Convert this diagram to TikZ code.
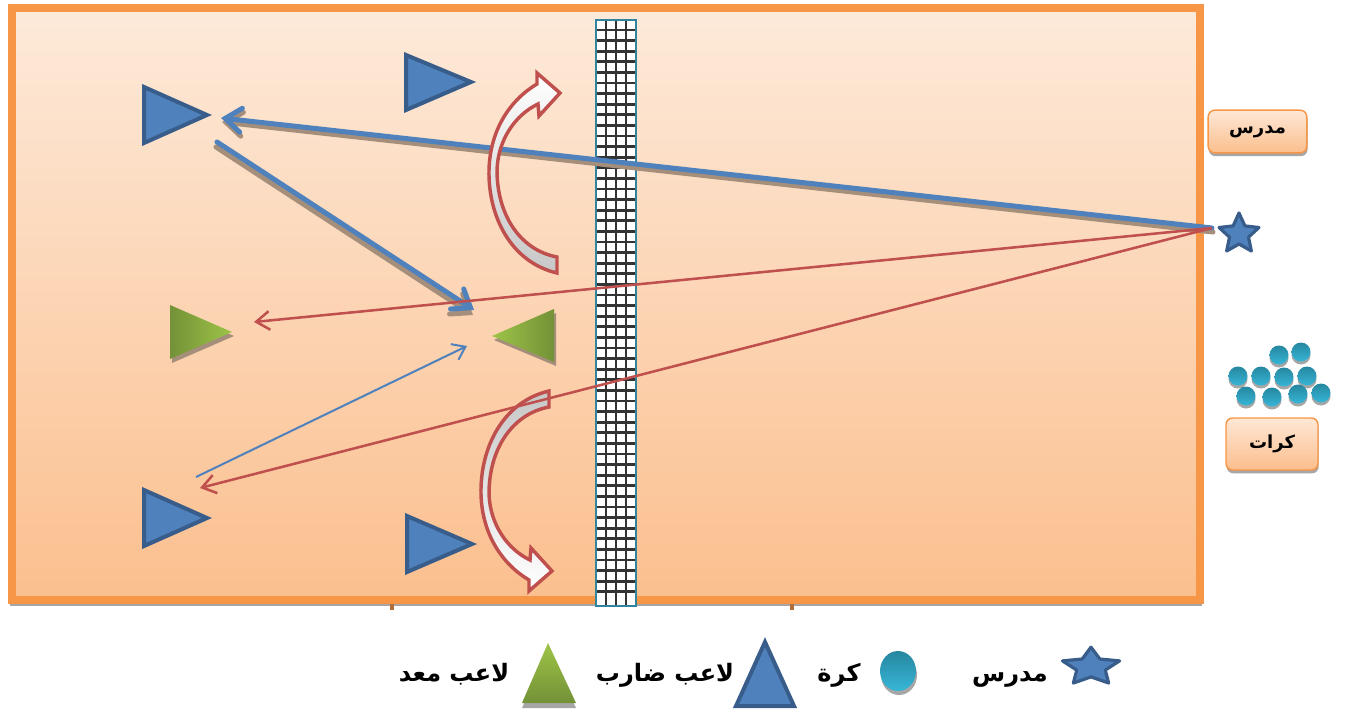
\documentclass[tikz,border=0pt]{standalone}
\usepackage{fontspec}
\newfontfamily\arabicfont[Script=Arabic]{DejaVu Sans}
\TeXXeTstate=1
\usetikzlibrary{arrows.meta,calc,shadows}
\definecolor{courtborder}{RGB}{247,150,70}
\definecolor{courttop}{RGB}{253,234,218}
\definecolor{courtbot}{RGB}{251,191,142}
\definecolor{pblue}{RGB}{79,129,189}
\definecolor{pbluedark}{RGB}{56,93,138}
\definecolor{ared}{RGB}{192,80,77}
\definecolor{glight}{RGB}{158,196,72}
\definecolor{gdark}{RGB}{115,145,55}
\definecolor{netteal}{RGB}{49,132,155}
\definecolor{ballt}{RGB}{38,135,160}
\definecolor{ballb}{RGB}{55,182,215}
\definecolor{shadowc}{RGB}{165,142,122}
\definecolor{boxtop}{RGB}{254,232,214}
\definecolor{boxbot}{RGB}{251,190,140}
\tikzset{
  thickarrow/.style={pblue, line width=3.75pt, line cap=round, -{Straight Barb[length=12pt,width=18pt,line cap=round]}},
  thickshadow/.style={shadowc, line width=3.75pt, line cap=round, -{Straight Barb[length=12pt,width=18pt,line cap=round]}},
  redarrow/.style={ared, line width=1.9pt, -{Straight Barb[length=10pt,width=14pt]}},
  bluearrow/.style={pblue, line width=1.5pt, -{Straight Barb[length=9pt,width=13pt]}},
  curvedarrow/.style={draw=ared, line width=2.6pt, line join=miter},
  player/.style={fill=pblue, draw=pbluedark, line width=3pt},
  starstyle/.style={fill=pblue, draw=pbluedark, line width=2.4pt, line join=round},
  labelbox/.style={draw=courtborder, line width=1.1pt, rounded corners=5pt, top color=boxtop, bottom color=boxbot,
     drop shadow={shadow xshift=0.5pt, shadow yshift=-2.5pt, fill=black!35, opacity=1}, inner sep=0pt},
  legendtext/.style={anchor=base, inner sep=0pt, font=\arabicfont\bfseries\fontsize{18}{21}\selectfont},
  boxtext/.style={font=\arabicfont\bfseries\fontsize{13.5}{16}\selectfont}
}
\begin{document}
\begin{tikzpicture}[x=0.75pt,y=-0.75pt]
\useasboundingbox (0,0) rectangle (1346,711);
% court
\shade[top color=courttop, bottom color=courtbot] (12,8) rectangle (1200,600);
\draw[black!35, line width=1.5pt] (10,605) -- (1202,605);
\draw[line width=2.5pt, color={rgb,255:red,175;green,110;blue,60}] (392,603) -- (392,610);
\draw[line width=2.5pt, color={rgb,255:red,175;green,110;blue,60}] (792,603) -- (792,610);
\draw[courtborder, line width=6pt] (12,8) rectangle (1200,600);
% net
\fill[white] (596,20) rectangle (636,606);
\foreach \x in {606,616,626} \draw[black!80, line width=2pt] (\x,20) -- (\x,606);
\foreach \y in {30,40.6,...,600} \draw[black!80, line width=2pt] (596,\y) -- (636,\y);
\draw[netteal, line width=1.3pt] (596,20) rectangle (636,606);
% players (hitters)
\draw[player] (144,87) -- (207,115) -- (144,143) -- cycle;
\draw[player] (406,55) -- (471,82) -- (406,110) -- cycle;
\draw[player] (144,490) -- (207,518) -- (144,546) -- cycle;
\draw[player] (407,516) -- (472,544) -- (407,572) -- cycle;
% setters
\fill[shadowc] (172,309) -- (234,336) -- (172,363) -- cycle;
\shade[left color=gdark, right color=glight] (170,305) -- (232,332) -- (170,359) -- cycle;
\fill[shadowc] (494,340) -- (556,313) -- (556,366) -- cycle;
\shade[left color=glight, right color=gdark] (492,336) -- (554,309) -- (554,362) -- cycle;
% named points
\coordinate (coach) at (1212,228);
\coordinate (t1head) at (221,118);
\coordinate (t1foot) at (217,142);
\coordinate (g2rec) at (474,310);
\coordinate (g1rec) at (254,322);
\coordinate (t3rec) at (200,488);
\coordinate (t3hit) at (196,477);
\coordinate (g2up) at (467,346);
% thick passes
\draw[thickshadow] ($(coach)+(1,4)$) -- ($(t1head)+(1,4)$);
\draw[thickshadow] ($(t1foot)+(-1,5)$) -- ($(g2rec)+(-1,5)$);
\draw[thickarrow] (coach) -- (t1head);
\draw[thickarrow] (t1foot) -- (g2rec);
% curved arrows
\path[curvedarrow, top color=white, bottom color=black!22]
  (557,257) -- (557,273) .. controls (510,262) and (488,215) .. (489,170)
  .. controls (490,130) and (510,100) .. (537,84) -- (537,73) -- (560,93) -- (539,116) -- (538,104)
  .. controls (515,115) and (498,140) .. (497,170) .. controls (497,215) and (520,250) .. (557,257) -- cycle;
\path[curvedarrow, top color=black!22, bottom color=white]
  (549,407) -- (549,391) .. controls (502,402) and (480,449) .. (481,494)
  .. controls (482,534) and (502,564) .. (529,580) -- (529,591) -- (552,571) -- (531,548) -- (530,560)
  .. controls (507,549) and (490,524) .. (489,494) .. controls (489,449) and (512,414) .. (549,407) -- cycle;
% thin passes
\draw[redarrow] (coach) -- (g1rec);
\draw[redarrow] (coach) -- (t3rec);
\draw[bluearrow] (t3hit) -- (g2up);
% coach star
\draw[starstyle] plot[samples at={0,...,9}] ({1239 + (mod(\x,2)==0 ? 21 : 10)*cos(-90+36*\x)}, {234 + (mod(\x,2)==0 ? 21 : 10)*sin(-90+36*\x)}) -- cycle;
% label boxes
\node[labelbox, minimum width=74pt, minimum height=32pt, boxtext] (teacherbox) at (1257.5,131.5) {\beginR مدرس\endR};
\node[labelbox, minimum width=69pt, minimum height=39pt, boxtext] (ballsbox) at (1272,444) {\beginR كرات\endR};
% balls
\foreach \bx/\by in {1279/355, 1301/352, 1238/376, 1261/376, 1284/377, 1307/376, 1246/396, 1272/397, 1298/394, 1321/393} {
  \fill[black!35] (\bx,\by+3) circle (9.5);
  \shade[top color=ballt, bottom color=ballb] (\bx,\by) circle (9.5);
}
% legend
\draw[starstyle] plot[samples at={0,...,9}] ({1091 + (mod(\x,2)==0 ? 30 : 15)*cos(-90+36*\x)}, {667 + 0.66*(mod(\x,2)==0 ? 30 : 15)*sin(-90+36*\x)}) -- cycle;
\node[legendtext] (legcoach) at (1010,681) {\beginR مدرس\endR};
\fill[black!35] (899,675) ellipse (18 and 20);
\shade[top color=ballt, bottom color=ballb] (898,671) ellipse (18 and 20);
\node[legendtext] (legball) at (839,681) {\beginR كرة\endR};
\draw[player] (765,642) -- (794,706) -- (736,706) -- cycle;
\node[legendtext] (leghitter) at (665,681) {\beginR لاعب ضارب\endR};
\fill[black!35] (548,648) -- (576,708) -- (522,708) -- cycle;
\shade[top color=glight, bottom color=gdark] (548,643) -- (576,703) -- (522,703) -- cycle;
\node[legendtext] (legsetter) at (454,681) {\beginR لاعب معد\endR};
\end{tikzpicture}
\end{document}
